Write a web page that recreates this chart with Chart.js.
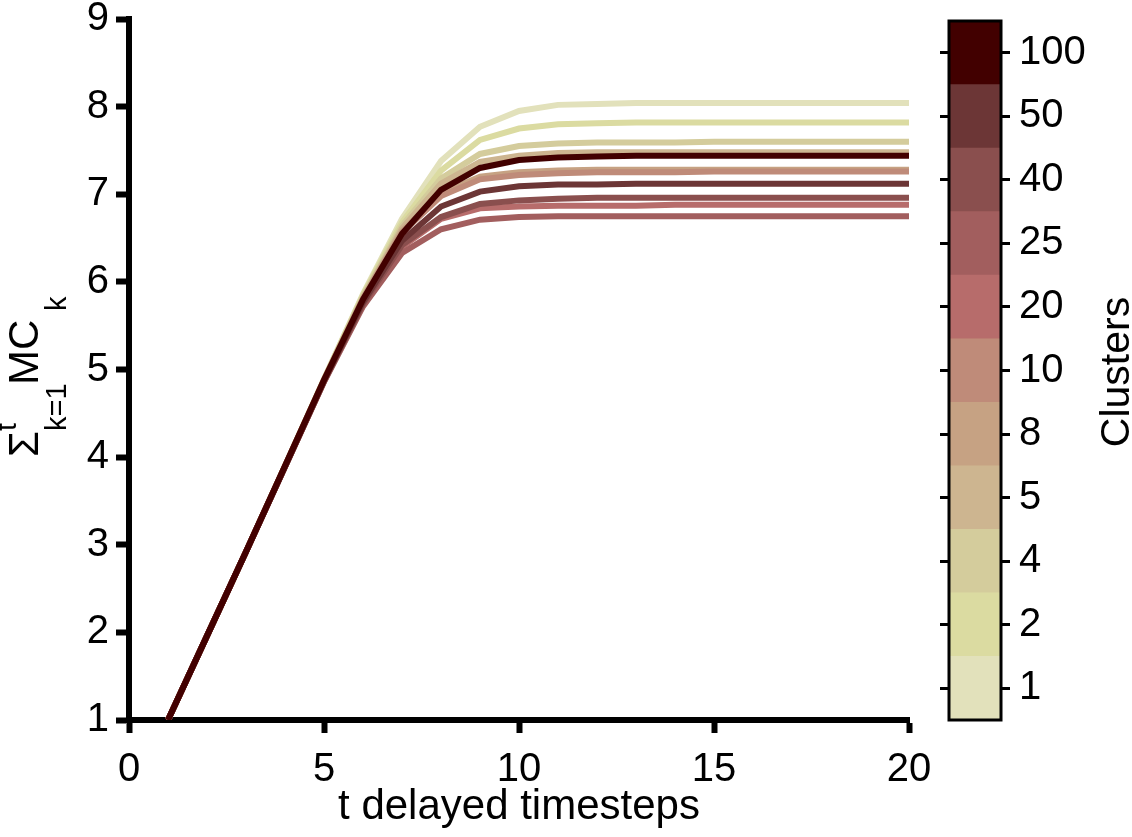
<!DOCTYPE html>
<html>
<head>
<meta charset="utf-8">
<script src="https://cdn.jsdelivr.net/npm/chart.js@4.4.1/dist/chart.umd.min.js"></script>
<style>
  body { margin: 0; background: #fff; }
  #main { position: absolute; left: 0; top: 0; }
  #bar { position: absolute; left: 900px; top: 0; }
</style>
</head>
<body>
<canvas id="main" width="1132" height="837"></canvas>
<canvas id="bar" width="232" height="837"></canvas>
<script>
// delayed timesteps
const steps = [1, 2, 3, 4, 5, 6, 7, 8, 9, 10, 11, 12, 13, 14, 15, 16, 17, 18, 19, 20];

// cumulative memory capacity per cluster count
const c1   = [1, 1.96, 2.92, 3.90, 4.89, 5.86, 6.72, 7.38, 7.77, 7.95, 8.02, 8.03, 8.04, 8.04, 8.04, 8.04, 8.04, 8.04, 8.04, 8.04];
const c2   = [1, 1.96, 2.92, 3.90, 4.89, 5.85, 6.68, 7.27, 7.62, 7.75, 7.80, 7.81, 7.82, 7.82, 7.82, 7.82, 7.82, 7.82, 7.82, 7.82];
const c4   = [1, 1.96, 2.92, 3.90, 4.88, 5.83, 6.64, 7.18, 7.46, 7.55, 7.58, 7.59, 7.59, 7.59, 7.60, 7.60, 7.60, 7.60, 7.60, 7.60];
const c5   = [1, 1.96, 2.92, 3.90, 4.88, 5.82, 6.61, 7.12, 7.37, 7.44, 7.47, 7.48, 7.48, 7.48, 7.48, 7.48, 7.48, 7.48, 7.48, 7.48];
const c8   = [1, 1.96, 2.92, 3.90, 4.88, 5.81, 6.58, 7.01, 7.20, 7.25, 7.27, 7.28, 7.28, 7.28, 7.28, 7.28, 7.28, 7.28, 7.28, 7.28];
const c10  = [1, 1.96, 2.92, 3.90, 4.88, 5.80, 6.56, 6.98, 7.17, 7.22, 7.24, 7.25, 7.25, 7.25, 7.26, 7.26, 7.26, 7.26, 7.26, 7.26];
const c20  = [1, 1.96, 2.92, 3.89, 4.86, 5.74, 6.40, 6.72, 6.84, 6.86, 6.87, 6.87, 6.87, 6.88, 6.88, 6.88, 6.88, 6.88, 6.88, 6.88];
const c25  = [1, 1.96, 2.92, 3.89, 4.86, 5.72, 6.33, 6.60, 6.71, 6.74, 6.75, 6.75, 6.75, 6.75, 6.75, 6.75, 6.75, 6.75, 6.75, 6.75];
const c40  = [1, 1.96, 2.92, 3.89, 4.87, 5.75, 6.42, 6.74, 6.89, 6.93, 6.95, 6.96, 6.96, 6.96, 6.96, 6.96, 6.96, 6.96, 6.96, 6.96];
const c50  = [1, 1.96, 2.92, 3.89, 4.87, 5.77, 6.47, 6.86, 7.03, 7.09, 7.11, 7.11, 7.12, 7.12, 7.12, 7.12, 7.12, 7.12, 7.12, 7.12];
const c100 = [1, 1.96, 2.92, 3.90, 4.88, 5.80, 6.55, 7.05, 7.30, 7.39, 7.42, 7.43, 7.44, 7.44, 7.44, 7.44, 7.44, 7.44, 7.44, 7.44];

// colorbar, top to bottom
const clusterLabels = ["100", "50", "40", "25", "20", "10", "8", "5", "4", "2", "1"];
const clusterColors = ["#420000", "#6c3636", "#8a4f4e", "#a25e5e", "#b76c6b", "#bf8b79", "#c6a283", "#cdb590", "#d4cc9c", "#dbdba1", "#e2e1bb"];
const clusterSeries = [c100, c50, c40, c25, c20, c10, c8, c5, c4, c2, c1];

const FONT = "'Liberation Sans', Arial, sans-serif";
Chart.defaults.font.family = FONT;
Chart.defaults.color = "#000";

// y axis label: Σ^t_{k=1} MC_k, rotated
const yLabelPlugin = {
  id: "yLabel",
  afterDraw(chart) {
    const ctx = chart.ctx;
    ctx.save();
    ctx.rotate(-Math.PI / 2);
    ctx.fillStyle = "#000";
    ctx.textBaseline = "alphabetic";
    ctx.textAlign = "left";
    // x = -(screen y where the piece starts), y = baseline screen x
    ctx.font = "42px " + FONT;
    ctx.fillText("\u03A3", -457, 38);
    ctx.font = "29px " + FONT;
    ctx.fillText("t", -431, 16);
    ctx.fillText("k=1", -431, 66);
    ctx.font = "42px " + FONT;
    ctx.fillText("MC", -385, 38);
    ctx.font = "29px " + FONT;
    ctx.fillText("k", -311, 66);
    ctx.restore();
  }
};

const datasets = clusterSeries.map((s, i) => ({
  label: clusterLabels[i],
  data: steps.map((t, j) => ({ x: t, y: s[j] })),
  borderColor: clusterColors[i],
  borderWidth: 6,
  pointRadius: 0,
  tension: 0,
  fill: false
}));

new Chart(document.getElementById("main"), {
  type: "line",
  data: { datasets },
  options: {
    responsive: false,
    animation: false,
    layout: { padding: { top: 15, right: 223, left: 0, bottom: 0 } },
    plugins: { legend: { display: false }, tooltip: { enabled: false } },
    scales: {
      x: {
        type: "linear", min: 0, max: 20,
        ticks: { stepSize: 5, font: { size: 40 }, color: "#000", padding: 13 },
        grid: { drawOnChartArea: false, tickLength: 13, tickWidth: 6, color: "#000" },
        border: { color: "#000", width: 6 },
        title: { display: true, text: "t delayed timesteps", font: { size: 42 }, color: "#000", padding: { top: 0, bottom: 4 } },
        afterFit: s => { s.height = 117; }
      },
      y: {
        min: 1, max: 9,
        ticks: { stepSize: 1, font: { size: 40, lineHeight: 0.6 }, color: "#000", padding: 7 },
        grid: { drawOnChartArea: false, tickLength: 13, tickWidth: 6, color: "#000" },
        border: { color: "#000", width: 6 },
        afterFit: s => { s.width = 129; }
      }
    }
  },
  plugins: [yLabelPlugin]
});

// colorbar frame and title
const barFramePlugin = {
  id: "barFrame",
  afterDraw(chart) {
    const { ctx, chartArea } = chart;
    ctx.save();
    ctx.strokeStyle = "#000";
    ctx.lineWidth = 3;
    ctx.strokeRect(chartArea.left, chartArea.top, chartArea.right - chartArea.left, chartArea.bottom - chartArea.top);
    ctx.translate(229, 372);
    ctx.rotate(-Math.PI / 2);
    ctx.fillStyle = "#000";
    ctx.font = "41px " + FONT;
    ctx.textAlign = "center";
    ctx.textBaseline = "alphabetic";
    ctx.fillText("Clusters", 0, 0);
    ctx.restore();
  }
};

new Chart(document.getElementById("bar"), {
  type: "bar",
  data: {
    labels: clusterLabels,
    datasets: [{
      data: clusterLabels.map(() => 1),
      backgroundColor: clusterColors,
      borderWidth: 0,
      barPercentage: 1,
      categoryPercentage: 1
    }]
  },
  options: {
    indexAxis: "y",
    responsive: false,
    animation: false,
    layout: { padding: { top: 15, bottom: 117, left: 0, right: 0 } },
    plugins: { legend: { display: false }, tooltip: { enabled: false } },
    scales: {
      x: { min: 0, max: 1, display: false },
      y: {
        position: "right",
        grid: { offset: false, drawOnChartArea: false, tickLength: 9, tickWidth: 3, color: "#000" },
        border: { display: false },
        ticks: { font: { size: 40, lineHeight: 0.6 }, color: "#000", padding: 9 },
        afterFit: s => { s.width = 131; }
      },
      yl: {
        type: "category",
        position: "left",
        offset: true,
        grid: { offset: false, drawOnChartArea: false, tickLength: 9, tickWidth: 3, color: "#000" },
        border: { display: false },
        ticks: { display: false },
        afterFit: s => { s.width = 49; }
      }
    }
  },
  plugins: [barFramePlugin]
});
</script>
</body>
</html>
